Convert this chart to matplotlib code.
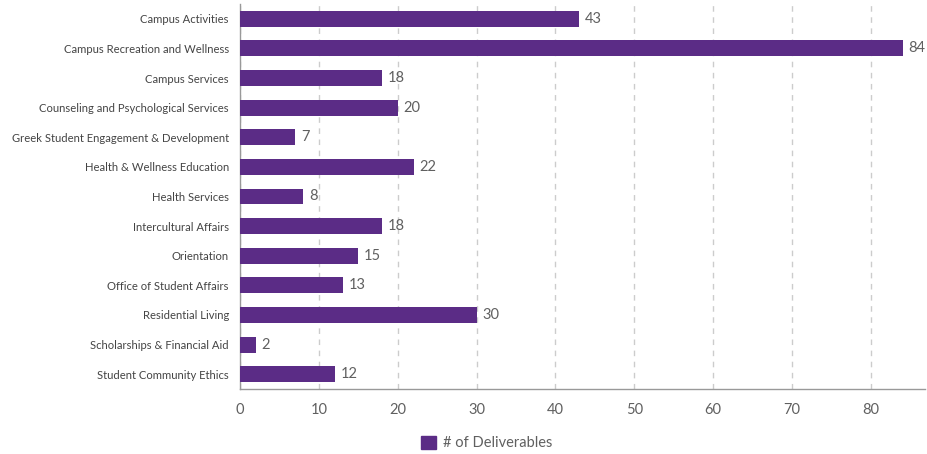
import matplotlib.pyplot as plt
from matplotlib.patches import Patch

plt.rcParams['font.family'] = ['Lato', 'DejaVu Sans']

departments = [
    'Campus Activities',
    'Campus Recreation and Wellness',
    'Campus Services',
    'Counseling and Psychological Services',
    'Greek Student Engagement & Development',
    'Health & Wellness Education',
    'Health Services',
    'Intercultural Affairs',
    'Orientation',
    'Office of Student Affairs',
    'Residential Living',
    'Scholarships & Financial Aid',
    'Student Community Ethics',
]
deliverables = [43, 84, 18, 20, 7, 22, 8, 18, 15, 13, 30, 2, 12]
x_ticks = [0, 10, 20, 30, 40, 50, 60, 70, 80]

purple = '#5b2c86'
grey_text = '#606060'

W, H = 928, 454
fig = plt.figure(figsize=(W / 100, H / 100), dpi=100)
# axes placed in pixel units: left 240, right 925, top 4, bottom 389
ax = fig.add_axes([240 / W, 1 - 389 / H, 685 / W, 385 / H])

ypos = list(range(len(departments)))
bars = ax.barh(ypos, deliverables, height=0.54, color=purple, zorder=3)

for y, v in zip(ypos, deliverables):
    ax.text(v + 0.75, y, str(v), va='center', ha='left', fontsize=10.5, color=grey_text)

ax.set_yticks(ypos)
ax.set_yticklabels(departments, fontsize=8.1, color='#444444')
ax.set_ylim(len(departments) - 0.5, -0.5)

ax.set_xticks(x_ticks)
ax.set_xticklabels([str(t) for t in x_ticks], fontsize=10.5, color=grey_text)
ax.set_xlim(0, 685 / 7.8875)

ax.tick_params(axis='both', length=0)
ax.tick_params(axis='x', pad=10)
ax.tick_params(axis='y', pad=8)

ax.grid(axis='x', linestyle=(0, (4, 4)), color='#cccccc', linewidth=1, zorder=0)
for s in ['top', 'right']:
    ax.spines[s].set_visible(False)
for s in ['left', 'bottom']:
    ax.spines[s].set_color('#999999')
    ax.spines[s].set_linewidth(1)

handle = Patch(facecolor=purple, edgecolor=purple)
fig.legend([handle], ['# of Deliverables'], loc='center', bbox_to_anchor=(487 / W, 1 - 443 / H),
           frameon=False, fontsize=10.5, labelcolor=grey_text, handlelength=1.0, handleheight=1.0,
           handletextpad=0.5)

fig.savefig('out.png', dpi=100)
